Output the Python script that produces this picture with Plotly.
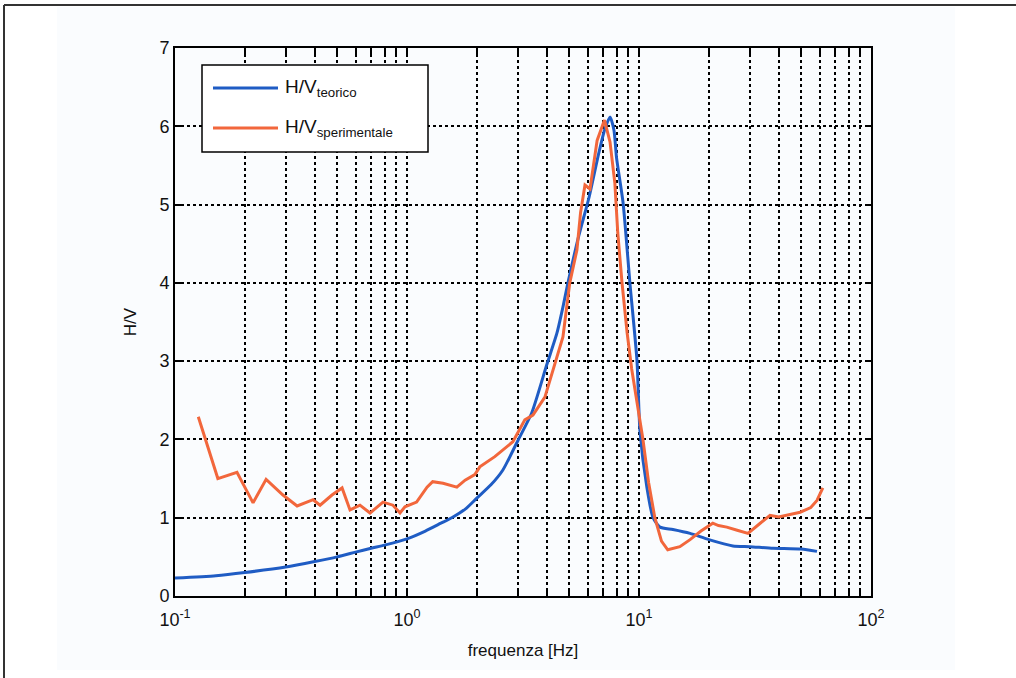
import plotly.graph_objects as go

# Theoretical H/V curve
freq_teorico = [0.1, 0.15, 0.2, 0.3, 0.4, 0.5, 0.6, 0.7, 0.8, 1.0, 1.2, 1.4, 1.56,
                1.8, 2.0, 2.3, 2.59, 3.0, 3.45, 4.0, 4.43, 4.7, 4.94, 5.5, 6.1,
                6.7, 7.1, 7.5, 7.8, 8.0, 8.54, 9.13, 9.8, 10.1, 10.8, 11.5, 12.3,
                14.0, 16.6, 20.0, 25.4, 30.0, 37.8, 50.0, 58.5]
hv_teorico = [0.23, 0.26, 0.30, 0.37, 0.44, 0.50, 0.56, 0.61, 0.65, 0.73, 0.83, 0.93,
              1.0, 1.12, 1.25, 1.42, 1.61, 1.98, 2.34, 2.95, 3.36, 3.69, 4.0, 4.6,
              5.1, 5.65, 5.95, 6.12, 5.95, 5.6, 5.02, 4.01, 3.01, 2.1, 1.4, 1.0,
              0.88, 0.85, 0.80, 0.72, 0.64, 0.63, 0.61, 0.60, 0.57]

# Measured H/V curve
freq_sper = [0.126, 0.153, 0.185, 0.217, 0.247, 0.292, 0.336, 0.394, 0.422, 0.475,
             0.525, 0.568, 0.627, 0.693, 0.788, 0.87, 0.933, 0.98, 1.10, 1.22,
             1.29, 1.43, 1.64, 1.78, 1.96, 2.06, 2.39, 2.86, 3.22, 3.49, 3.93,
             4.26, 4.7, 5.03, 5.4, 5.6, 5.85, 6.15, 6.6, 7.1, 7.5, 7.87, 8.1, 8.45,
             8.89, 9.3, 9.8, 10.4, 11.0, 11.7, 12.5, 13.3, 15.0, 16.6, 18.5, 20.8,
             22.0, 23.9, 26.5, 29.5, 33.0, 36.7, 40.0, 43.3, 49.5, 55.0, 58.5, 62.0]
hv_sper = [2.29, 1.50, 1.58, 1.19, 1.49, 1.29, 1.15, 1.23, 1.16, 1.29,
           1.38, 1.10, 1.16, 1.06, 1.20, 1.16, 1.06, 1.14, 1.20, 1.39,
           1.46, 1.44, 1.39, 1.48, 1.55, 1.65, 1.78, 1.97, 2.25, 2.31, 2.54,
           2.89, 3.31, 4.0, 4.42, 4.9, 5.25, 5.2, 5.82, 6.08, 5.8, 5.27, 4.64, 4.0,
           3.36, 2.9, 2.5, 2.0, 1.45, 1.0, 0.7, 0.59, 0.63, 0.72, 0.83, 0.93,
           0.90, 0.88, 0.84, 0.80, 0.92, 1.03, 1.01, 1.03, 1.07, 1.13, 1.22, 1.38]

# Log axis ticks: every 1..9 per decade carries a grid line, decades are labelled
decades = [0.1, 1, 10, 100]
decade_labels = ["10<sup>-1</sup>", "10<sup>0</sup>", "10<sup>1</sup>", "10<sup>2</sup>"]
x_tickvals, x_ticktext = [], []
for d, lab in zip(decades, decade_labels):
    for m in range(1, 10):
        if d == 100 and m > 1:
            break
        x_tickvals.append(round(d * m, 6))
        x_ticktext.append(lab if m == 1 else "")
y_tickvals = [0, 1, 2, 3, 4, 5, 6, 7]

BLUE = "#1F5CC4"
RED = "#F2673C"
FONT = "Liberation Sans"
INK = "#111"

fig = go.Figure()
fig.add_trace(go.Scatter(x=freq_teorico, y=hv_teorico, mode="lines",
                         name="H/V<sub>teorico</sub>", line_shape="spline",
                         line=dict(color=BLUE, width=3, smoothing=0.6)))
fig.add_trace(go.Scatter(x=freq_sper, y=hv_sper, mode="lines",
                         name="H/V<sub>sperimentale</sub>",
                         line=dict(color=RED, width=3)))

grid_kw = dict(showgrid=True, gridcolor="black", gridwidth=1.7, griddash="3px,3px",
               ticks="inside", ticklen=6, tickcolor="black", tickwidth=1.5,
               showline=True, linecolor="black", linewidth=2, mirror="ticks",
               zeroline=False, tickfont=dict(family=FONT, size=18, color=INK))

fig.update_xaxes(type="log", range=[-1, 2], tickmode="array",
                 tickvals=x_tickvals, ticktext=x_ticktext, ticklabelstandoff=6,
                 title=dict(text="frequenza [Hz]", standoff=16,
                            font=dict(family=FONT, size=17, color=INK)),
                 **grid_kw)
fig.update_yaxes(range=[0, 7], tickvals=y_tickvals,
                 title=dict(text="H/V", standoff=18,
                            font=dict(family=FONT, size=17, color=INK)),
                 **grid_kw)

# Legend drawn in paper coordinates of the plot area (696 x 548 px)
PW, PH = 696.0, 548.0
def px(x):
    return x / PW
def py(y):
    return 1 - y / PH

legend_shapes = [
    dict(type="rect", xref="paper", yref="paper",
         x0=px(27), x1=px(253), y0=py(104), y1=py(17),
         fillcolor="white", line=dict(color="black", width=1.5)),
    dict(type="line", xref="paper", yref="paper",
         x0=px(38), x1=px(103), y0=py(40), y1=py(40),
         line=dict(color=BLUE, width=3)),
    dict(type="line", xref="paper", yref="paper",
         x0=px(38), x1=px(103), y0=py(80), y1=py(80),
         line=dict(color=RED, width=3)),
]
legend_texts = [
    dict(xref="paper", yref="paper", x=px(108), y=py(40), xanchor="left",
         yanchor="middle", showarrow=False, text="H/V<sub>teorico</sub>",
         font=dict(family=FONT, size=19, color=INK)),
    dict(xref="paper", yref="paper", x=px(108), y=py(80), xanchor="left",
         yanchor="middle", showarrow=False, text="H/V<sub>sperimentale</sub>",
         font=dict(family=FONT, size=19, color=INK)),
]

fig.update_layout(
    width=1016, height=678,
    margin=dict(l=175, r=145, t=48, b=82),
    paper_bgcolor="white", plot_bgcolor="white",
    showlegend=False,
    shapes=[
        # pale panel behind the axes
        dict(type="rect", xref="paper", yref="paper", layer="below",
             x0=-118 / PW, x1=780 / PW, y0=-74 / PH, y1=589 / PH,
             fillcolor="#FAFCFE", line=dict(width=0)),
        # outer frame edges
        dict(type="line", xref="paper", yref="paper",
             x0=-171 / PW, x1=-171 / PW, y0=-90 / PH, y1=591 / PH,
             line=dict(color="#333", width=2)),
        dict(type="line", xref="paper", yref="paper",
             x0=-171 / PW, x1=845 / PW, y0=591 / PH, y1=591 / PH,
             line=dict(color="#333", width=2)),
    ] + legend_shapes,
    annotations=legend_texts,
)

fig.write_html("out.html")
